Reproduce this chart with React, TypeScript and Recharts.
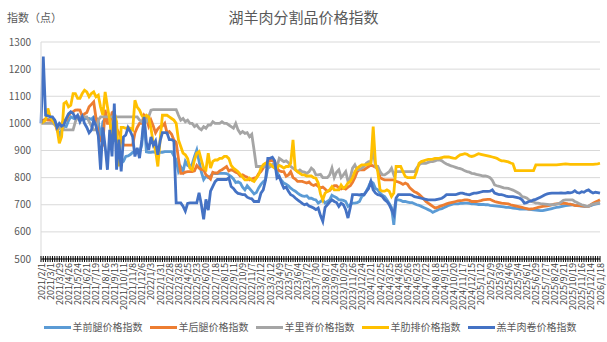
import * as React from 'react';
import { LineChart, Line, XAxis, YAxis, CartesianGrid } from 'recharts';

// weekly index, one label every 4 weeks
const TICK_LABELS = [
  '2021/2/1', '2021/3/1', '2021/3/29', '2021/4/26', '2021/5/24', '2021/6/21', '2021/7/19', '2021/8/16',
  '2021/9/13', '2021/10/11', '2021/11/8', '2021/12/6', '2022/1/3', '2022/1/31', '2022/2/28', '2022/3/28',
  '2022/4/25', '2022/5/23', '2022/6/20', '2022/7/18', '2022/8/15', '2022/9/11', '2022/10/9', '2022/11/7',
  '2023/2/12', '2023/3/12', '2023/4/9', '2023/5/7', '2023/6/4', '2023/7/2', '2023/7/30', '2023/8/27',
  '2023/9/24', '2023/10/29', '2023/11/26', '2023/12/24', '2024/1/21', '2024/2/25', '2024/3/25', '2024/4/28',
  '2024/5/26', '2024/6/23', '2024/7/22', '2024/8/18', '2024/9/15', '2024/10/20', '2024/11/17', '2024/12/15',
  '2025/1/12', '2025/2/9', '2025/3/9', '2025/4/6', '2025/5/4', '2025/6/1', '2025/6/29', '2025/7/27',
  '2025/8/24', '2025/9/21', '2025/10/19', '2025/11/16', '2025/12/14', '2026/1/18'
];

const Y_TICKS = [500, 600, 700, 800, 900, 1000, 1100, 1200, 1300];

const FRONT_LEG = [
  1000, 1010, 1015, 1015, 1012, 1015, 1012, 990, 951, 975,
  990, 988, 1010, 1024, 1020, 1015, 1025, 1010, 1020, 1015,
  1018, 1018, 1015, 1024, 1020, 1010, 939, 1005, 1018, 1015,
  1018, 945, 940, 930, 925, 854, 860, 878, 880, 885,
  893, 893, 893, 893, 920, 1020, 895, 893, 893, 895,
  893, 890, 893, 893, 896, 896, 896, 896, 880, 866,
  823, 840, 823, 860, 845, 840, 850, 878, 902, 860,
  820, 793, 805, 800, 805, 817, 815, 815, 816, 816,
  816, 815, 810, 804, 795, 782, 785, 780, 765, 755,
  770, 760, 750, 740, 745, 762, 775, 785, 792, 835,
  841, 847, 840, 823, 800, 790, 780, 776, 770, 761,
  755, 750, 743, 737, 733, 731, 733, 724, 724, 720,
  718, 706, 712, 718, 706, 712, 718, 735, 730, 726,
  718, 718, 716, 712, 694, 700, 706, 706, 708, 712,
  730, 737, 750, 767, 786, 780, 760, 755, 743, 735,
  730, 718, 705, 690, 626, 718, 718, 716, 712, 712,
  710, 708, 708, 704, 700, 698, 694, 690, 686, 682,
  678, 672, 676, 680, 684, 686, 690, 694, 698, 700,
  703, 703, 703, 705, 705, 706, 706, 705, 703, 703,
  702, 701, 701, 701, 700, 700, 698, 697, 696, 695,
  694, 693, 692, 690, 690, 689, 688, 687, 686, 684,
  684, 684, 684, 683, 682, 681, 680, 679, 678, 678,
  680, 682, 684, 686, 688, 690, 691, 693, 695, 697,
  698, 699, 700, 698, 697, 696, 695, 694, 694, 695,
  697, 700, 702, 704, 706
];

const HIND_LEG = [
  1000, 1012, 1015, 1012, 1012, 1010, 1005, 976, 985, 1000,
  1012, 1012, 1030, 1040, 1043, 1049, 1050, 1049, 1025, 1035,
  1040, 1061, 1070, 1079, 1020, 960, 939, 927, 1050, 1000,
  1000, 1040, 1045, 980, 965, 945, 920, 920, 920, 920,
  920, 965, 985, 1000, 1000, 1030, 1020, 990, 1012, 990,
  965, 980, 988, 990, 1000, 965, 970, 960, 939, 930,
  870, 816, 816, 820, 822, 822, 822, 825, 845, 835,
  830, 828, 810, 804, 795, 820, 817, 817, 825, 829,
  835, 841, 825, 829, 825, 820, 816, 806, 810, 805,
  802, 792, 795, 798, 800, 815, 822, 835, 850, 859,
  865, 862, 859, 835, 825, 822, 822, 805, 810, 822,
  800, 795, 786, 786, 786, 783, 780, 784, 775, 771,
  775, 768, 762, 765, 758, 749, 752, 762, 770, 770,
  762, 758, 762, 758, 765, 770, 783, 800, 822, 829,
  829, 829, 835, 841, 847, 843, 838, 835, 800, 795,
  792, 792, 792, 792, 792, 786, 784, 780, 775, 780,
  775, 762, 755, 748, 744, 738, 730, 722, 712, 706,
  700, 694, 688, 690, 694, 697, 700, 703, 706, 708,
  710, 712, 714, 715, 716, 718, 718, 716, 712, 712,
  712, 713, 715, 718, 719, 720, 720, 716, 712, 710,
  708, 706, 705, 704, 703, 700, 698, 696, 694, 692,
  690, 688, 686, 684, 685, 686, 688, 690, 692, 694,
  695, 696, 698, 700, 702, 703, 704, 704, 706, 705,
  703, 702, 700, 698, 697, 697, 696, 695, 694, 694,
  700, 706, 710, 714, 718
];

const LOIN = [
  1000, 1000, 1000, 1000, 1000, 1000, 995, 988, 982, 995,
  976, 976, 976, 976, 976, 1006, 1024, 1024, 1024, 1024,
  1024, 1006, 990, 976, 976, 1012, 1024, 1024, 1024, 1024,
  1024, 1024, 1024, 1024, 1024, 1024, 1024, 1024, 1024, 1024,
  1024, 1024, 1024, 1012, 1006, 1006, 1006, 1024, 1049, 1051,
  1051, 1051, 1051, 1051, 1051, 1051, 1051, 1051, 1051, 1051,
  1030, 1012, 1018, 1006, 1012, 1000, 1000, 988, 994, 982,
  976, 988, 982, 994, 994, 1006, 1000, 1000, 1000, 1006,
  1000, 1000, 994, 988, 982, 1000, 976, 963, 970, 963,
  966, 951, 960, 902, 841, 841, 841, 841, 841, 853,
  841, 847, 853, 841, 871, 865, 859, 862, 855, 841,
  835, 829, 822, 828, 822, 820, 816, 822, 835, 828,
  810, 810, 812, 800, 800, 800, 810, 835, 800, 820,
  829, 800, 810, 822, 786, 800, 835, 847, 829, 830,
  835, 841, 853, 859, 859, 902, 841, 841, 822, 810,
  810, 816, 822, 835, 810, 822, 822, 822, 822, 822,
  822, 822, 822, 822, 835, 847, 853, 853, 853, 856,
  859, 859, 862, 865, 865, 862, 855, 850, 847, 843,
  841, 838, 835, 833, 830, 825, 822, 820, 816, 815,
  812, 810, 808, 806, 806, 804, 800, 790, 773, 770,
  768, 765, 762, 761, 760, 757, 754, 750, 745, 740,
  730, 728, 725, 718, 712, 710, 706, 706, 704, 703,
  702, 701, 700, 700, 700, 702, 704, 710, 716, 718,
  718, 718, 718, 712, 708, 704, 700, 698, 694, 694,
  700, 702, 704, 706, 708
];

const RIBS = [
  1000, 1006, 1012, 1055, 1024, 1012, 1000, 982, 927, 951,
  1073, 1079, 1061, 1067, 1110, 1110, 1092, 1092, 1110, 1122,
  1116, 1098, 1110, 1116, 1098, 1104, 1061, 1030, 1116, 1061,
  1012, 945, 1037, 1006, 841, 985, 985, 982, 985, 982,
  976, 1085, 1060, 1049, 1030, 1018, 1030, 1024, 982, 927,
  900, 841, 939, 1030, 1030, 1030, 1024, 1018, 1012, 1000,
  939, 915, 890, 884, 870, 835, 829, 865, 890, 896,
  865, 835, 829, 890, 835, 860, 865, 865, 871, 871,
  878, 878, 870, 845, 835, 829, 822, 812, 802, 792,
  792, 798, 790, 786, 798, 810, 835, 847, 853, 853,
  850, 841, 835, 835, 845, 841, 835, 841, 841, 853,
  939, 829, 822, 816, 810, 810, 806, 806, 806, 800,
  798, 780, 740, 718, 743, 749, 755, 767, 755, 755,
  755, 773, 761, 767, 780, 786, 800, 822, 835, 841,
  847, 847, 847, 850, 853, 988, 853, 822, 755, 750,
  750, 755, 750, 730, 743, 841, 841, 841, 822, 804,
  800, 800, 800, 800, 822, 853, 859, 862, 865, 867,
  867, 868, 871, 871, 872, 874, 876, 876, 876, 874,
  872, 871, 878, 884, 886, 888, 886, 880, 878, 880,
  884, 888, 886, 884, 882, 880, 878, 876, 874, 871,
  866, 862, 862, 860, 858, 854, 851, 826, 826, 826,
  826, 826, 826, 826, 826, 826, 847, 847, 847, 847,
  847, 847, 847, 847, 847, 847, 848, 849, 850, 851,
  850, 849, 849, 849, 849, 849, 849, 849, 849, 849,
  849, 849, 850, 851, 853
];

const LAMB_ROLL = [
  1000, 1246, 1030, 1028, 1024, 1024, 1012, 985, 1000, 990,
  995, 1018, 1035, 1043, 1037, 1020, 1030, 1006, 1025, 1000,
  985, 965, 975, 1012, 990, 955, 829, 985, 915, 829,
  976, 878, 1073, 829, 940, 823, 950, 957, 985, 970,
  951, 878, 910, 872, 939, 1024, 930, 902, 950, 920,
  935, 884, 935, 966, 966, 965, 940, 940, 935, 707,
  707, 707, 695, 677, 705, 707, 707, 707, 707, 744,
  700, 646, 720, 680, 750, 768, 785, 793, 793, 793,
  793, 793, 800, 767, 760, 749, 742, 740, 737, 737,
  728, 724, 722, 712, 712, 712, 743, 755, 790, 871,
  871, 875, 862, 798, 805, 780, 761, 765, 750, 737,
  733, 725, 718, 712, 705, 700, 703, 695, 692, 688,
  682, 688, 660, 639, 690, 700, 710, 718, 712, 708,
  694, 706, 700, 682, 651, 690, 737, 737, 737, 736,
  738, 737, 749, 760, 786, 755, 743, 737, 735, 730,
  718, 712, 700, 682, 664, 725, 737, 737, 737, 737,
  737, 737, 735, 730, 728, 726, 724, 722, 720, 718,
  718, 718, 718, 720, 722, 724, 730, 737, 737, 737,
  737, 737, 740, 743, 743, 740, 738, 737, 740, 743,
  743, 745, 747, 749, 749, 749, 750, 755, 743, 740,
  737, 737, 735, 732, 730, 730, 730, 728, 726, 724,
  718, 706, 708, 712, 714, 718, 720, 724, 728, 732,
  737, 740, 742, 743, 743, 743, 743, 744, 743, 743,
  745, 744, 746, 752, 745, 743, 748, 746, 752, 755,
  748, 743, 746, 745, 743
];

const SERIES = [
  { key: 'front', name: '羊前腿价格指数', color: '#5B9BD5' },
  { key: 'hind', name: '羊后腿价格指数', color: '#ED7D31' },
  { key: 'loin', name: '羊里脊价格指数', color: '#A5A5A5' },
  { key: 'rib', name: '羊肋排价格指数', color: '#FFC000' },
  { key: 'roll', name: '羔羊肉卷价格指数', color: '#4472C4' }
];

const chartData = FRONT_LEG.map((_, i) => ({
  idx: i,
  front: FRONT_LEG[i],
  hind: HIND_LEG[i],
  loin: LOIN[i],
  rib: RIBS[i],
  roll: LAMB_ROLL[i]
}));

const FONT = "'Noto Sans CJK SC', 'Liberation Sans', sans-serif";
const TEXT_COLOR = '#595959';

// tick mark on every week, rotated date label on every 4th
const DateTick = ({ x, y, payload }: any) => {
  const i = Number(payload.value);
  const label = i % 4 === 0 ? TICK_LABELS[i / 4] : null;
  return (
    <g>
      <line x1={x} y1={y - 3} x2={x} y2={y + 3} stroke="#000" strokeWidth={1} />
      {label && (
        <text
          x={x}
          y={y + 4}
          transform={`rotate(-90 ${x} ${y + 4})`}
          textAnchor="end"
          dominantBaseline="central"
          fontSize={9}
          fontFamily={FONT}
          fill="#404040"
        >
          {label}
        </text>
      )}
    </g>
  );
};

export default function App() {
  return (
    <div
      style={{
        position: 'absolute',
        left: 0,
        top: 0,
        width: 607,
        height: 342,
        background: '#fff',
        fontFamily: FONT
      }}
    >
      <div
        style={{
          position: 'absolute',
          left: 7,
          top: 9,
          fontSize: 11,
          lineHeight: '16px',
          color: TEXT_COLOR
        }}
      >
        指数（点）
      </div>
      <div
        style={{
          position: 'absolute',
          left: 0,
          top: 7,
          width: 607,
          textAlign: 'center',
          fontSize: 15,
          lineHeight: '20px',
          color: TEXT_COLOR
        }}
      >
        湖羊肉分割品价格指数
      </div>

      <LineChart
        width={607}
        height={342}
        data={chartData}
        margin={{ top: 42, right: 7, bottom: 23, left: 0 }}
        style={{ position: 'absolute', left: 0, top: 0 }}
      >
        <CartesianGrid vertical={false} stroke="#D9D9D9" />
        <XAxis
          dataKey="idx"
          type="category"
          interval={0}
          height={60}
          tickLine={false}
          tickSize={0}
          tickMargin={0}
          axisLine={{ stroke: '#000' }}
          tick={<DateTick />}
        />
        <YAxis
          domain={[500, 1300]}
          ticks={Y_TICKS}
          width={41}
          tickLine={false}
          tickSize={0}
          tickMargin={10}
          axisLine={{ stroke: '#D9D9D9' }}
          tick={{ fontSize: 10, fill: TEXT_COLOR, fontFamily: FONT }}
        />
        {SERIES.map((s) => (
          <Line
            key={s.key}
            type="linear"
            dataKey={s.key}
            name={s.name}
            stroke={s.color}
            strokeWidth={2.8}
            dot={false}
            isAnimationActive={false}
          />
        ))}
      </LineChart>

      <div
        style={{
          position: 'absolute',
          left: 10,
          top: 319,
          width: 607,
          display: 'flex',
          justifyContent: 'center',
          alignItems: 'center',
          fontSize: 10,
          color: TEXT_COLOR,
          whiteSpace: 'nowrap'
        }}
      >
        {SERIES.map((s) => (
          <div key={s.key} style={{ display: 'flex', alignItems: 'center', marginRight: 7 }}>
            <span
              style={{
                display: 'inline-block',
                width: 27,
                height: 3,
                background: s.color,
                marginRight: 2
              }}
            />
            <span style={{ lineHeight: '16px' }}>{s.name}</span>
          </div>
        ))}
      </div>
    </div>
  );
}
